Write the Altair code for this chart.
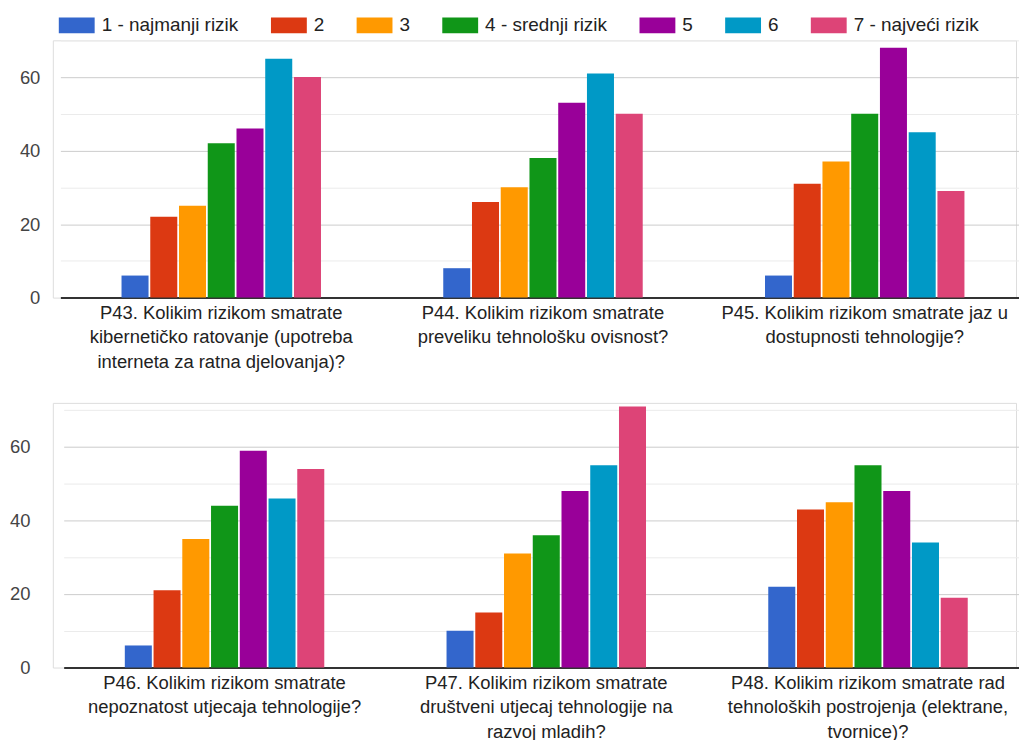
import altair as alt
import pandas as pd

questions_top = [
    "P43. Kolikim rizikom smatrate\nkibernetičko ratovanje (upotreba\ninterneta za ratna djelovanja)?",
    "P44. Kolikim rizikom smatrate\npreveliku tehnološku ovisnost?",
    "P45. Kolikim rizikom smatrate jaz u\ndostupnosti tehnologije?",
]
questions_bottom = [
    "P46. Kolikim rizikom smatrate\nnepoznatost utjecaja tehnologije?",
    "P47. Kolikim rizikom smatrate\ndruštveni utjecaj tehnologije na\nrazvoj mladih?",
    "P48. Kolikim rizikom smatrate rad\ntehnoloških postrojenja (elektrane,\ntvornice)?",
]
series = ["1 - najmanji rizik", "2", "3", "4 - srednji rizik", "5", "6", "7 - najveći rizik"]
colors = ["#3366cc", "#dc3912", "#ff9900", "#109618", "#990099", "#0099c6", "#dd4477"]

p43 = [6, 22, 25, 42, 46, 65, 60]
p44 = [8, 26, 30, 38, 53, 61, 50]
p45 = [6, 31, 37, 50, 68, 45, 29]
p46 = [6, 21, 35, 44, 59, 46, 54]
p47 = [10, 15, 31, 36, 48, 55, 71]
p48 = [22, 43, 45, 55, 48, 34, 19]

grid_values = [0, 10, 20, 30, 40, 50, 60, 70]

rows = []
for q, vals in zip(questions_top + questions_bottom, [p43, p44, p45, p46, p47, p48]):
    for s, v in zip(series, vals):
        rows.append({"q": q, "s": s, "v": v})
df = pd.DataFrame(rows)

FONT = "Liberation Sans"
PX = 3.69

legend = alt.Legend(
    title=None, orient="none", legendX=14, legendY=-25, direction="horizontal",
    columns=7, symbolType="M-1.8,-0.8H1.8V0.8H-1.8Z", symbolSize=400,
    symbolStrokeWidth=0, symbolOpacity=1, labelFont=FONT, labelFontSize=19,
    labelColor="#222222", labelOffset=15, columnPadding=32, padding=0,
)


def panel(qs, ymax, r0, lab_pad):
    return alt.Chart(df[df.q.isin(qs)]).mark_bar().encode(
        x=alt.X(
            "q:N", sort=qs,
            scale=alt.Scale(domain=qs, range=[r0, r0 + 969], paddingInner=0.38, paddingOuter=0.19),
            axis=alt.Axis(
                title=None, labelExpr="split(datum.label, '\\n')", labelAngle=0, labelLimit=0,
                labelFont=FONT, labelFontSize=18.5, labelLineHeight=24.5, labelPadding=6,
                labelColor="#222222", domainColor="#333333", domainWidth=2, ticks=False,
                grid=False, labelOverlap=False,
            ),
        ),
        xOffset=alt.XOffset("s:N", sort=series, scale=alt.Scale(domain=series, paddingInner=0.06)),
        y=alt.Y(
            "v:Q", scale=alt.Scale(domain=[0, ymax], nice=False),
            axis=alt.Axis(
                title=None, values=grid_values,
                labelExpr="datum.value % 20 == 0 ? datum.label : ''",
                gridColor=alt.condition("datum.value % 20 == 0", alt.value("#cccccc"), alt.value("#ebebeb")),
                domain=False, ticks=False, labelPadding=lab_pad, labelFont=FONT,
                labelFontSize=18.5, labelColor="#444444",
            ),
        ),
        color=alt.Color("s:N", sort=series, scale=alt.Scale(domain=series, range=colors), legend=legend),
    ).properties(width=967, height=ymax * PX)


top = panel(questions_top, 70, 7.6, 13)
bottom = panel(questions_bottom, 72, 10.9, 23)

chart = alt.vconcat(top, bottom, spacing=30).properties(
    padding={"top": 6, "left": 0, "right": 0, "bottom": 0}
).configure_view(stroke=None).configure(background="white")

chart.save("out.html", embed_options={"renderer": "svg", "actions": False})
